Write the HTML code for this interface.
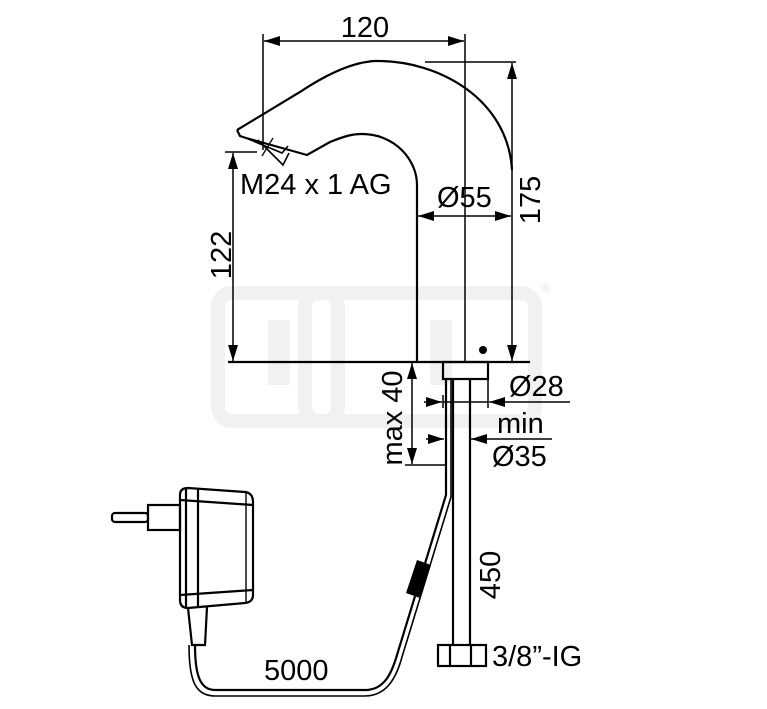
<!DOCTYPE html>
<html><head><meta charset="utf-8"><style>html,body{margin:0;padding:0;background:#fff}svg{display:block}</style></head><body>
<svg width="767" height="709" viewBox="0 0 767 709" xmlns="http://www.w3.org/2000/svg" font-family="Liberation Sans, Arial, sans-serif">
<defs>
<marker id="a" viewBox="0 0 16 10" refX="16" refY="5" markerWidth="16" markerHeight="10" orient="auto-start-reverse" markerUnits="userSpaceOnUse"><path d="M0,0L16,5L0,10z" fill="#000"/></marker>
</defs>
<!-- watermark -->
<g fill="none" stroke="#f1f1f1" stroke-width="14">
<rect x="218" y="293" width="120" height="128" rx="14"/>
<rect x="305" y="293" width="230" height="128" rx="14"/>
</g>
<g fill="#f1f1f1"><rect x="268" y="320" width="22" height="65"/><rect x="430" y="320" width="22" height="65"/></g>
<text x="541" y="292" font-size="12" fill="#e4e4e4">®</text>

<g fill="none" stroke="#000" stroke-width="2.2">
<!-- spout -->
<path d="M237,130 L300,92 C330,72 355,62 375,61 C440,60 508,100 512,170"/>
<path d="M237,130 L240,136 L246,138 L282,148 L307,155 L330,142 C345,136 352,134 362,134 C395,134 417,160 417,185 L417,362"/>
<path d="M246,138 L282,153 L288,146" stroke-width="1.6"/>
<path d="M258,140 L283,165 L289,153" stroke-width="1.6"/>
<line x1="262" y1="156" x2="273" y2="138" stroke-width="1.3"/>
</g>
<g stroke="#000" stroke-width="1.5" fill="none">
<line x1="263" y1="34" x2="263" y2="150"/>
<line x1="465" y1="34" x2="465" y2="362"/>
<line x1="264" y1="41" x2="464" y2="41" marker-start="url(#a)" marker-end="url(#a)"/>
<line x1="425" y1="62" x2="516" y2="62"/>
<line x1="512" y1="63" x2="512" y2="361" marker-start="url(#a)" marker-end="url(#a)"/>
<line x1="225" y1="152" x2="257" y2="152"/>
<line x1="233" y1="153" x2="233" y2="361" marker-start="url(#a)" marker-end="url(#a)"/>
<line x1="418" y1="216" x2="511" y2="216" marker-start="url(#a)" marker-end="url(#a)"/>
<line x1="228" y1="362" x2="530" y2="362" stroke-width="2.2"/>
<!-- max 40 -->
<line x1="412" y1="363" x2="412" y2="464" marker-start="url(#a)" marker-end="url(#a)"/>
<line x1="405" y1="465" x2="445" y2="465"/>
<!-- Ø28 -->
<line x1="424" y1="402" x2="442" y2="402" marker-end="url(#a)"/>
<line x1="443" y1="402" x2="488" y2="402"/>
<line x1="570" y1="402" x2="489" y2="402" marker-end="url(#a)"/>
<line x1="443" y1="395" x2="443" y2="408"/><line x1="488" y1="380" x2="488" y2="408"/>
<!-- Ø35 -->
<line x1="426" y1="439" x2="444" y2="439" marker-end="url(#a)"/>
<line x1="552" y1="439" x2="471" y2="439" marker-end="url(#a)"/>
</g>
<circle cx="483" cy="350" r="4" fill="#000"/>
<g fill="none" stroke="#000" stroke-width="2.2">
<rect x="443" y="362" width="45" height="17"/>
<line x1="453" y1="379" x2="453" y2="645"/>
<line x1="470" y1="379" x2="470" y2="645"/>
<rect x="438" y="645" width="48" height="21"/>
<line x1="450" y1="645" x2="450" y2="666"/><line x1="471" y1="645" x2="471" y2="666"/>
<!-- cable -->
<path d="M446,379 L446,495 L397,655 C392,672 385,690 365,690 L215,690 C200,690 195,675 195,645"/>
<path d="M451,379 L451,497 L402,657 C397,675 388,696 365,696 L215,696 C195,696 189,680 189,645" stroke-width="1.6"/>
<!-- adapter -->
<path d="M180,495 Q180,488 188,488 L245,492 Q253,493 253,502 L253,595 Q253,602 245,603 L188,608 Q180,608 180,600 Z"/>
<line x1="186" y1="489" x2="186" y2="607"/><line x1="198" y1="489" x2="198" y2="607"/>
<line x1="180" y1="500" x2="253" y2="505"/><line x1="180" y1="595" x2="253" y2="590"/>
<line x1="246" y1="493" x2="246" y2="602" stroke-width="1.4"/>
<rect x="148" y="505" width="32" height="25"/>
<rect x="112" y="513" width="36" height="9" rx="3"/>
<path d="M188,608 L192,645 L205,645 L207,607"/>
</g>
<path d="M417,560 L431,565 L420,598 L406,593 Z" fill="#000"/>
<g font-size="29" fill="#000">
<text x="365" y="37" text-anchor="middle">120</text>
<text x="240" y="194">M24 x 1 AG</text>
<text x="437" y="207">Ø55</text>
<text transform="translate(540,200) rotate(-90)" text-anchor="middle">175</text>
<text transform="translate(231,255) rotate(-90)" text-anchor="middle">122</text>
<text x="509" y="396">Ø28</text>
<text x="497" y="433">min</text>
<text x="492" y="466">Ø35</text>
<text transform="translate(402,418) rotate(-90)" text-anchor="middle">max 40</text>
<text transform="translate(500,575) rotate(-90)" text-anchor="middle">450</text>
<text x="492" y="666">3/8”-IG</text>
<text x="264" y="680">5000</text>
</g>
</svg>
</body></html>
